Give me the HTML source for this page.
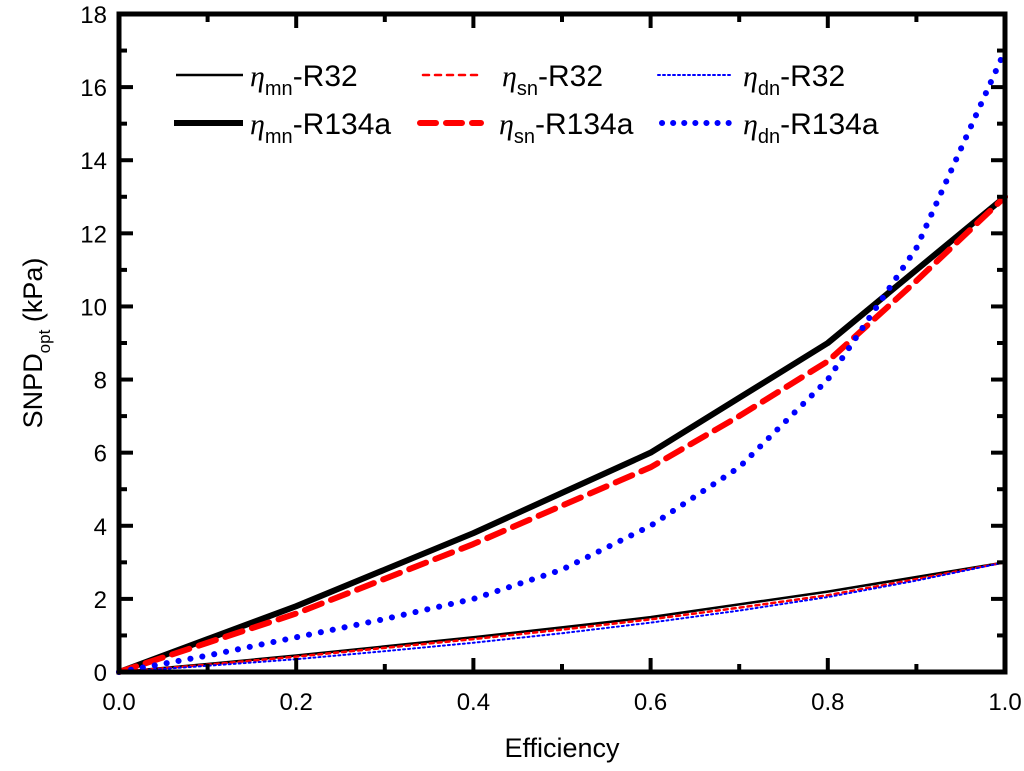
<!DOCTYPE html>
<html><head><meta charset="utf-8"><style>
body{margin:0;background:#fff}
svg text{font-family:"Liberation Sans",Arial,sans-serif;fill:#000}
</style></head><body>
<svg id="chart" width="1024" height="766">
<g id="plot"></g>
</svg>
<script>
const xs=[0,0.1,0.2,0.3,0.4,0.5,0.6,0.7,0.8,0.9,1.0];
const mnR32=[0,0.22,0.45,0.7,0.95,1.22,1.5,1.85,2.2,2.6,3.0];
const snR32=[0,0.2,0.42,0.66,0.9,1.16,1.44,1.76,2.1,2.54,3.0];
const dnR32=[0,0.17,0.35,0.57,0.8,1.06,1.35,1.68,2.05,2.5,3.0];
const mnR134a=[0,0.9,1.8,2.8,3.8,4.9,6.0,7.5,9.0,11.0,13.0];
const snR134a=[0,0.8,1.6,2.55,3.5,4.55,5.6,7.0,8.5,10.7,13.0];
const dnR134a=[0,0.45,0.95,1.45,2.0,2.8,4.0,5.6,8.0,11.6,17.0];
const xTicks=["0.0","0.2","0.4","0.6","0.8","1.0"];
const yTicks=["0","2","4","6","8","10","12","14","16","18"];
const L=119,R=1005,T=14,B=672;
const X=v=>L+(R-L)*v, Y=v=>B-(B-T)*v/18;
const ns="http://www.w3.org/2000/svg", g=document.getElementById('plot');
function mk(tag,a){const e=document.createElementNS(ns,tag);for(const k in a)e.setAttribute(k,a[k]);g.appendChild(e);return e;}
const series=[
 {d:mnR32,c:"#000",w:2.5,da:"",n:"mn-r32"},
 {d:snR32,c:"#f00",w:2.5,da:"4 4",n:"sn-r32"},
 {d:dnR32,c:"#00f",w:2,da:"2 3",n:"dn-r32"},
 {d:mnR134a,c:"#000",w:6,da:"",n:"mn-r134a"},
 {d:snR134a,c:"#f00",w:6,da:"18 10",n:"sn-r134a"},
 {d:dnR134a,c:"#00f",w:6,da:"0.1 12",n:"dn-r134a"}];
series.forEach(s=>{
 const p=mk('path',{d:s.d.map((v,i)=>(i?'L':'M')+X(xs[i])+','+Y(v)).join(''),fill:'none',stroke:s.c,'stroke-width':s.w,'stroke-dasharray':s.da,'stroke-linecap':'round','stroke-linejoin':'round'});
 
 
});
const fr=mk('rect',{x:L,y:T,width:R-L,height:B-T,fill:'none',stroke:'#000','stroke-width':5});


for(let i=0;i<=10;i++){const v=i/10,len=i%2?8:14;
 mk('line',{x1:X(v),x2:X(v),y1:B,y2:B-len,stroke:'#000','stroke-width':4});
 mk('line',{x1:X(v),x2:X(v),y1:T,y2:T+len,stroke:'#000','stroke-width':4});}
xTicks.forEach((t,i)=>{const e=mk('text',{x:X(i*0.2),y:B+38,'text-anchor':'middle','font-size':24});e.textContent=t;
 
 });
for(let i=0;i<=18;i++){const len=i%2?8:14;
 mk('line',{x1:L,x2:L+len,y1:Y(i),y2:Y(i),stroke:'#000','stroke-width':4});
 mk('line',{x1:R,x2:R-len,y1:Y(i),y2:Y(i),stroke:'#000','stroke-width':4});}
yTicks.forEach((t,i)=>{const e=mk('text',{x:L-12,y:Y(i*2)+9,'text-anchor':'end','font-size':24});e.textContent=t;
 
 });
let xt=mk('text',{x:562,y:757,'text-anchor':'middle','font-size':27});xt.textContent='Efficiency';


let yt=mk('text',{transform:'translate(42,343) rotate(-90)','text-anchor':'middle','font-size':27});
yt.innerHTML='SNPD<tspan font-size="17" dy="8">opt</tspan><tspan dy="-8"> (kPa)</tspan>';


const leg=[
 {s:0,sub:'mn',lab:'-R32'},{s:1,sub:'sn',lab:'-R32'},{s:2,sub:'dn',lab:'-R32'},
 {s:3,sub:'mn',lab:'-R134a'},{s:4,sub:'sn',lab:'-R134a'},{s:5,sub:'dn',lab:'-R134a'}];
const legDash=[["","6 6","2 3"],["","16 10","0.1 11"]];
const LX0=[[176,423,658],[174,420,662]],LX1=[[243,483,733],[243,481,733]],TX=[[250,502,743],[250,499,743]];
leg.forEach((l,i)=>{const s=series[l.s];const col=i%3,row=Math.floor(i/3);const yy=[75,123][row];
 const ln=mk('line',{x1:LX0[row][col],x2:LX1[row][col],y1:yy,y2:yy,stroke:s.c,'stroke-width':s.w,'stroke-dasharray':legDash[row][col],'stroke-linecap':col==0?'butt':'round'});
 
 
 const t=mk('text',{x:TX[row][col],y:yy+11,'font-size':30});
 t.innerHTML='<tspan font-family="Liberation Serif" font-style="italic">η</tspan><tspan font-size="20" dy="9">'+l.sub+'</tspan><tspan dy="-9">'+l.lab+'</tspan>';
 
 
});
</script>
</body></html>
